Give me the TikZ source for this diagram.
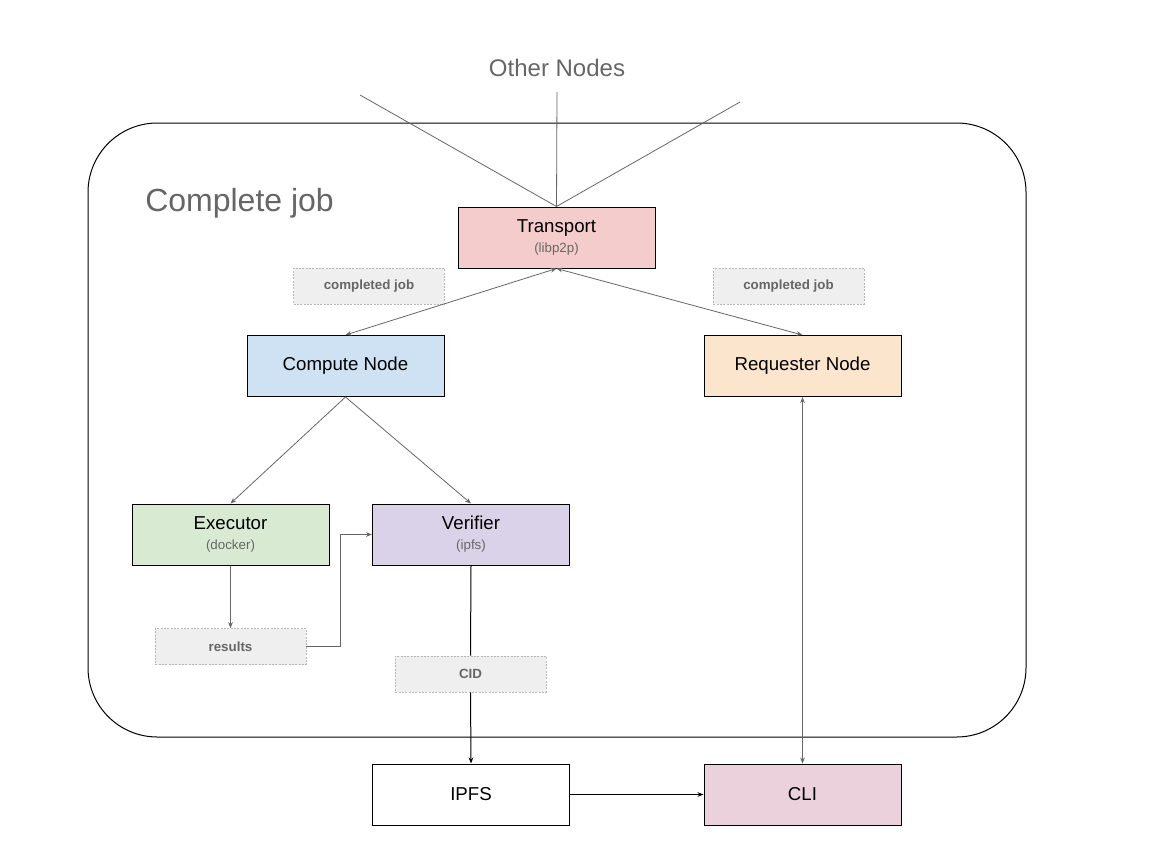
\documentclass[tikz,border=0pt]{standalone}
\usepackage{fontspec}
\setmainfont{Liberation Sans}
\usepackage{xcolor}
\usetikzlibrary{arrows.meta}

\definecolor{txtgray}{HTML}{666666}
\definecolor{lblfill}{HTML}{EFEFEF}
\definecolor{lblline}{HTML}{B7B7B7}
\definecolor{trfill}{HTML}{F4CCCC}
\definecolor{cnfill}{HTML}{CFE2F3}
\definecolor{rqfill}{HTML}{FCE5CD}
\definecolor{exfill}{HTML}{D9EAD3}
\definecolor{vefill}{HTML}{D9D2E9}
\definecolor{clfill}{HTML}{EAD1DC}
\newcommand{\sub}[1]{\\[0pt]{\color{txtgray}\fontsize{10}{11}\selectfont #1}}

\begin{document}
\begin{tikzpicture}[x=0.75pt,y=-0.75pt,>={Stealth[length=4.5pt,width=3.5pt]},
  block/.style={draw=black,line width=0.75pt,minimum width=147.75pt,minimum height=45.75pt,
    align=center,inner sep=0pt,font=\fontsize{14}{15}\selectfont},
  tag/.style={draw=lblline,dashed,dash pattern=on 1.5pt off 1pt,fill=lblfill,line width=0.5pt,
    minimum width=113pt,minimum height=27pt,inner sep=0pt,text=txtgray,font=\fontsize{10}{11}\selectfont\bfseries},
  link/.style={draw=txtgray,line width=0.6pt},
  flow/.style={draw=black,line width=0.75pt}]
\useasboundingbox (0,0) rectangle (1152,864);

% outer frame
\draw[line width=0.75pt,rounded corners=52pt] (88,123) rectangle (1026,737);
\node[text=txtgray,font=\fontsize{18}{20}\selectfont] (others) at (557,68) {Other Nodes};
\node[text=txtgray,font=\fontsize{24}{26}\selectfont,anchor=west,inner sep=0pt] (title) at (145,203) {Complete job};

% blocks
\node[block,fill=trfill] (transport) at (556.5,237.5) {Transport\sub{(libp2p)}};
\node[block,fill=cnfill] (compute) at (345.5,366) {Compute Node};
\node[block,fill=rqfill] (requester) at (802.5,366) {Requester Node};
\node[block,fill=exfill] (executor) at (230.5,534.5) {Executor\sub{(docker)}};
\node[block,fill=vefill] (verifier) at (471,534.5) {Verifier\sub{(ipfs)}};
\node[block,fill=white] (ipfs) at (471,794.5) {IPFS};
\node[block,fill=clfill] (cli) at (802.5,794.5) {CLI};

% labels on the flows
\node[tag] (donel) at (369,286) {completed job};
\node[tag] (doner) at (788.5,286) {completed job};
\node[tag] (results) at (230.5,646.5) {results};
\node[tag] (cid) at (470.5,674) {CID};

% peers
\coordinate (peerA) at (360,95);
\coordinate (peerB) at (557,92);
\coordinate (peerC) at (740,102);
\foreach \p in {peerA,peerB,peerC}
  \draw[link] (transport.north) -- (\p);

% connectors
\draw[link,<->] (transport.south) -- (compute.north);
\draw[link,<->] (transport.south) -- (requester.north);
\draw[link,->] (compute.south) -- (executor.north);
\draw[link,->] (compute.south) -- (verifier.north);
\draw[link,->] (executor.south) -- (results.north);
\draw[link,->] (results.east) -- ++(34,0) |- (verifier.west);
\draw[flow] (verifier.south) -- (cid.north);
\draw[flow,->] (cid.south) -- (ipfs.north);
\draw[flow,->] (ipfs.east) -- (cli.west);
\draw[link,<->] (requester.south) -- (cli.north);
\end{tikzpicture}
\end{document}
